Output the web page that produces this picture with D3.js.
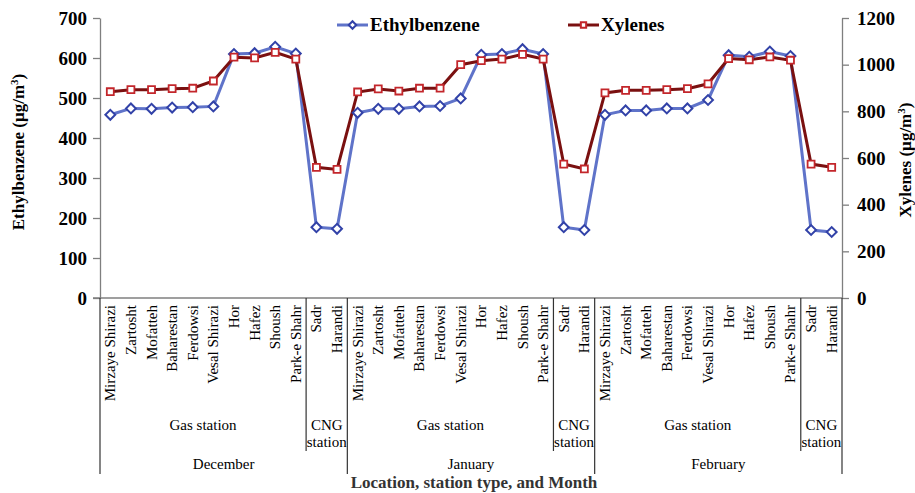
<!DOCTYPE html>
<html>
<head>
<meta charset="utf-8">
<script src="https://cdn.jsdelivr.net/npm/d3@7"></script>
<style>
  html,body{margin:0;padding:0;background:#fff;}
</style>
</head>
<body>
<div id="chart"></div>
<script>
// Ethylbenzene / Xylenes per station, type and month
const months = ["December", "January", "February"];
const gasStations = ["Mirzaye Shirazi","Zartosht","Mofatteh","Baharestan","Ferdowsi","Vesal Shirazi","Hor","Hafez","Shoush","Park-e Shahr"];
const cngStations = ["Sadr","Harandi"];
const leftTicks = [0,100,200,300,400,500,600,700];
const rightTicks = [0,200,400,600,800,1000,1200];

// in order: Dec (10 gas + 2 CNG), Jan, Feb
const ethylbenzene = [
  458,474,473,476,477,479,610,612,628,611,177,173,
  463,473,473,479,480,499,608,610,622,610,177,170,
  458,469,469,474,474,495,607,603,616,605,170,165
];
const xylenes = [
  884,893,893,897,899,930,1032,1029,1053,1024,560,551,
  883,896,887,899,899,1000,1017,1024,1044,1024,574,553,
  879,890,890,893,897,918,1026,1021,1033,1019,574,560
];

const FONT = "'Liberation Serif','Times New Roman',Times,'DejaVu Serif',serif";

const rows = [];
months.forEach(m => {
  gasStations.forEach(s => rows.push({month:m, type:"gas", name:s}));
  cngStations.forEach(s => rows.push({month:m, type:"cng", name:s}));
});
rows.forEach((r,i) => { r.key = i; r.eb = ethylbenzene[i]; r.xy = xylenes[i]; });

const W = 915, H = 493;
const L = 100, R = 842, T = 18, B = 298;
const svg = d3.select("#chart").append("svg").attr("width",W).attr("height",H)
  .style("display","block").attr("font-family",FONT);

const x = d3.scaleBand().domain(rows.map(d=>d.key)).range([L,R]).padding(0);
const yL = d3.scaleLinear().domain([0,700]).range([B,T]);
const yR = d3.scaleLinear().domain([0,1200]).range([B,T]);
const cx = d => x(d.key) + x.bandwidth()/2;

// axes
const axL = svg.append("g").attr("transform",`translate(${L},0)`)
  .call(d3.axisLeft(yL).tickValues(leftTicks).tickFormat(d3.format("d")).tickSize(7).tickPadding(6).tickSizeOuter(0));
const axR = svg.append("g").attr("transform",`translate(${R},0)`)
  .call(d3.axisRight(yR).tickValues(rightTicks).tickFormat(d3.format("d")).tickSize(7).tickPadding(8).tickSizeOuter(0));
[axL,axR].forEach(a=>{
  a.attr("font-family",FONT);
  a.select(".domain").attr("stroke","#7f7f7f").attr("stroke-width",1.3);
  a.selectAll(".tick line").attr("stroke","#7f7f7f").attr("stroke-width",1.3);
  a.selectAll(".tick text").attr("font-weight","bold").attr("font-size",19).attr("fill","#000");
});
svg.append("line").attr("x1",L-7).attr("x2",R).attr("y1",B).attr("y2",B).attr("stroke","#7f7f7f").attr("stroke-width",1.3);

// axis titles
function unitTitle(tx, ty, label){
  const t = svg.append("text").attr("transform",`translate(${tx},${ty}) rotate(-90)`).attr("text-anchor","middle")
    .attr("font-weight","bold").attr("font-size",17).text(label + " (µg/m");
  t.append("tspan").attr("baseline-shift","super").attr("font-size",11).text("3");
  t.append("tspan").text(")");
}
unitTitle(24, 152, "Ethylbenzene");
unitTitle(911, 160, "Xylenes");

// category labels
svg.append("g").selectAll("text").data(rows).join("text")
  .attr("transform",d=>`translate(${cx(d)+5},305) rotate(-90)`)
  .attr("text-anchor","end").attr("font-size",15).attr("fill","#000").text(d=>d.name);

// group separators and labels
const bw = x.bandwidth();
const sep = svg.append("g").attr("stroke","#333").attr("stroke-width",1.2);
months.forEach((m,mi)=>{
  const first = rows.find(r=>r.month===m);
  const x0 = x(first.key), xc = x0 + gasStations.length*bw, x1 = xc + cngStations.length*bw;
  sep.append("line").attr("x1",x0).attr("x2",x0).attr("y1",B).attr("y2",474);
  sep.append("line").attr("x1",xc).attr("x2",xc).attr("y1",B).attr("y2",451);
  if(mi===months.length-1) sep.append("line").attr("x1",x1).attr("x2",x1).attr("y1",B).attr("y2",474);
  svg.append("text").attr("x",(x0+xc)/2).attr("y",430).attr("text-anchor","middle").attr("font-size",15).text("Gas station");
  svg.append("text").attr("x",(xc+x1)/2).attr("y",430).attr("text-anchor","middle").attr("font-size",15).text("CNG");
  svg.append("text").attr("x",(xc+x1)/2).attr("y",447).attr("text-anchor","middle").attr("font-size",15).text("station");
  svg.append("text").attr("x",(x0+x1)/2).attr("y",469).attr("text-anchor","middle").attr("font-size",15).text(m);
});
svg.append("text").attr("x",474).attr("y",488).attr("text-anchor","middle").attr("font-weight","bold")
  .attr("font-size",17).attr("fill","#333").text("Location, station type, and  Month");

// series
const ebLine = "#5f73c9", ebMark = "#3242a8";
const xyLine = "#7a1010", xyMark = "#c3262b";
svg.append("path").datum(rows).attr("fill","none").attr("stroke",ebLine).attr("stroke-width",3)
  .attr("d",d3.line().x(cx).y(d=>yL(d.eb)));
svg.append("path").datum(rows).attr("fill","none").attr("stroke",xyLine).attr("stroke-width",3)
  .attr("d",d3.line().x(cx).y(d=>yR(d.xy)));
const square = d3.symbol().type(d3.symbolSquare2).size(62);
const small = d3.symbol().type(d3.symbolSquare2).size(36);
svg.append("g").selectAll("path").data(rows).join("path")
  .attr("transform",d=>`translate(${cx(d)},${yL(d.eb)}) rotate(45)`)
  .attr("d",square).attr("fill","#fff").attr("stroke",ebMark).attr("stroke-width",2);
svg.append("g").selectAll("path").data(rows).join("path")
  .attr("transform",d=>`translate(${cx(d)},${yR(d.xy)})`)
  .attr("d",square).attr("fill","#fff").attr("stroke",xyMark).attr("stroke-width",1.8);

// legend
const leg = [
  {label:"Ethylbenzene", x:337, line:ebLine, mark:ebMark, rot:45},
  {label:"Xylenes", x:568, line:xyLine, mark:xyMark, rot:0}
];
leg.forEach(l=>{
  const g = svg.append("g").attr("transform",`translate(${l.x},25)`);
  g.append("line").attr("x1",0).attr("x2",31).attr("stroke",l.line).attr("stroke-width",3);
  g.append("path").attr("transform",`translate(15.5,0) rotate(${l.rot})`).attr("d",small)
    .attr("fill","#fff").attr("stroke",l.mark).attr("stroke-width",2);
  g.append("text").attr("x",33).attr("y",6).attr("font-weight","bold").attr("font-size",19).text(l.label);
});
</script>
</body>
</html>
